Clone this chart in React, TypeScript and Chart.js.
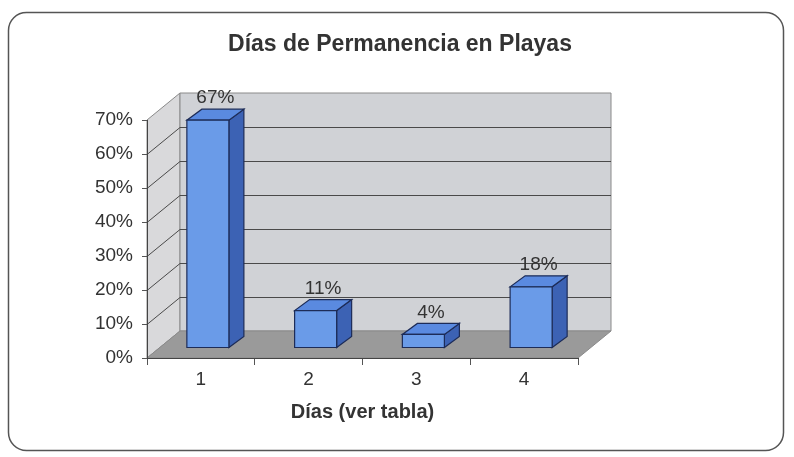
import React, { useEffect, useRef } from "react";
import { Chart, registerables } from "chart.js";

Chart.register(...registerables);

const categories = ["1", "2", "3", "4"];
const percentValues = [67, 11, 4, 18];
const yTickValues = [0, 10, 20, 30, 40, 50, 60, 70];
const chartTitle = "Días de Permanencia en Playas";
const xAxisTitle = "Días (ver tabla)";

const FONT = "'Liberation Sans', Arial, Helvetica, sans-serif";
const TEXT = "#333333";

const WALL_DX = 33;
const WALL_DY = -27;
const BAR_OX = 7;
const BAR_OY = -10;
const BAR_DX = 15;
const BAR_DY = -11;

function poly(ctx: CanvasRenderingContext2D, pts: number[][], fill: string, stroke?: string, lw = 1) {
  ctx.beginPath();
  ctx.moveTo(pts[0][0], pts[0][1]);
  for (let i = 1; i < pts.length; i++) ctx.lineTo(pts[i][0], pts[i][1]);
  ctx.closePath();
  ctx.fillStyle = fill;
  ctx.fill();
  if (stroke) {
    ctx.strokeStyle = stroke;
    ctx.lineWidth = lw;
    ctx.stroke();
  }
}

const threeD = {
  id: "threeD",
  beforeDraw(chart: any) {
    const ctx = chart.ctx as CanvasRenderingContext2D;
    const xs = chart.scales.x;
    const ys = chart.scales.y;
    const L = xs.left;
    const R = xs.right;
    const B = ys.getPixelForValue(yTickValues[0]);
    const T = ys.getPixelForValue(yTickValues[yTickValues.length - 1]);
    ctx.save();
    ctx.fillStyle = "#ffffff";
    ctx.fillRect(0, 0, chart.width, chart.height);
    // outer frame
    ctx.beginPath();
    (ctx as any).roundRect(8.5, 12.5, 775, 438, 18);
    ctx.strokeStyle = "#555555";
    ctx.lineWidth = 1.5;
    ctx.stroke();
    // walls and floor
    poly(ctx, [[L, B], [L, T], [L + WALL_DX, T + WALL_DY], [L + WALL_DX, B + WALL_DY]], "#d9d9db", "#8a8a8a");
    poly(
      ctx,
      [[L + WALL_DX, T + WALL_DY], [R + WALL_DX, T + WALL_DY], [R + WALL_DX, B + WALL_DY], [L + WALL_DX, B + WALL_DY]],
      "#d0d2d6",
      "#8a8a8a"
    );
    poly(ctx, [[L, B], [R, B], [R + WALL_DX, B + WALL_DY], [L + WALL_DX, B + WALL_DY]], "#9a9a9a", "#8a8a8a");
    // gridlines on side and back walls
    ctx.strokeStyle = "#4a4a4a";
    ctx.lineWidth = 1;
    for (const v of yTickValues.slice(1, -1)) {
      const yf = Math.round(ys.getPixelForValue(v)) + 0.5;
      ctx.beginPath();
      ctx.moveTo(L, yf);
      ctx.lineTo(L + WALL_DX, yf + WALL_DY);
      ctx.lineTo(R + WALL_DX, yf + WALL_DY);
      ctx.stroke();
    }
    ctx.restore();
  },
  afterDatasetsDraw(chart: any) {
    const ctx = chart.ctx as CanvasRenderingContext2D;
    const meta = chart.getDatasetMeta(0);
    ctx.save();
    meta.data.forEach((el: any, i: number) => {
      const p = el.getProps(["x", "y", "base", "width"], true);
      const l = p.x - p.width / 2 + BAR_OX;
      const r = p.x + p.width / 2 + BAR_OX;
      const t = p.y + BAR_OY;
      const b = p.base + BAR_OY;
      const stroke = "#1d2c58";
      poly(ctx, [[r, b], [r, t], [r + BAR_DX, t + BAR_DY], [r + BAR_DX, b + BAR_DY]], "#3c62b4", stroke, 1.2);
      poly(ctx, [[l, t], [r, t], [r + BAR_DX, t + BAR_DY], [l + BAR_DX, t + BAR_DY]], "#5a8ae0", stroke, 1.2);
      poly(ctx, [[l, b], [l, t], [r, t], [r, b]], "#6a9be8", stroke, 1.2);
      ctx.fillStyle = TEXT;
      ctx.font = `19px ${FONT}`;
      ctx.textAlign = "center";
      ctx.textBaseline = "middle";
      ctx.fillText(`${percentValues[i]}%`, (l + r) / 2 + BAR_DX / 2, t + BAR_DY - 11);
    });
    ctx.restore();
  },
  afterDraw(chart: any) {
    const ctx = chart.ctx as CanvasRenderingContext2D;
    ctx.save();
    ctx.fillStyle = TEXT;
    ctx.font = `bold 23px ${FONT}`;
    ctx.textAlign = "center";
    ctx.textBaseline = "middle";
    ctx.fillText(chartTitle, 400, 45);
    ctx.restore();
  },
};

export default function App() {
  const ref = useRef<HTMLCanvasElement | null>(null);
  useEffect(() => {
    if (!ref.current) return;
    const chart = new Chart(ref.current, {
      type: "bar",
      data: {
        labels: categories,
        datasets: [
          {
            data: percentValues,
            backgroundColor: "rgba(0,0,0,0)",
            borderWidth: 0,
            categoryPercentage: 1,
            barPercentage: 0.39,
          },
        ],
      },
      options: {
        responsive: false,
        animation: false,
        layout: { padding: { top: 120, right: 216, left: 0, bottom: 0 } },
        plugins: { legend: { display: false }, tooltip: { enabled: false }, title: { display: false } },
        scales: {
          x: {
            type: "category",
            offset: true,
            grid: { display: true, drawOnChartArea: false, drawTicks: true, tickLength: 7, color: "#555555", offset: true },
            border: { display: true, color: "#444444", width: 1 },
            ticks: { color: TEXT, font: { family: FONT, size: 19 }, padding: 3 },
            title: {
              display: true,
              text: xAxisTitle,
              color: TEXT,
              font: { family: FONT, size: 20, weight: "bold" },
              padding: { top: 0, bottom: 33 },
            },
            afterFit: (s: any) => {
              s.height = 99;
            },
          },
          y: {
            min: yTickValues[0],
            max: yTickValues[yTickValues.length - 1],
            afterBuildTicks: (s: any) => {
              s.ticks = yTickValues.map((v) => ({ value: v }));
            },
            grid: { display: true, drawOnChartArea: false, drawTicks: true, tickLength: 5, color: "#555555" },
            border: { display: true, color: "#444444", width: 1 },
            ticks: {
              color: TEXT,
              font: { family: FONT, size: 19 },
              padding: 9,
              callback: (v: any) => `${v}%`,
            },
            afterFit: (s: any) => {
              s.width = 147;
            },
          },
        },
      },
      plugins: [threeD],
    } as any);
    return () => chart.destroy();
  }, []);
  return (
    <div style={{ position: "absolute", left: 0, top: 0, width: 794, height: 457 }}>
      <canvas ref={ref} width={794} height={457} style={{ display: "block" }} />
    </div>
  );
}
